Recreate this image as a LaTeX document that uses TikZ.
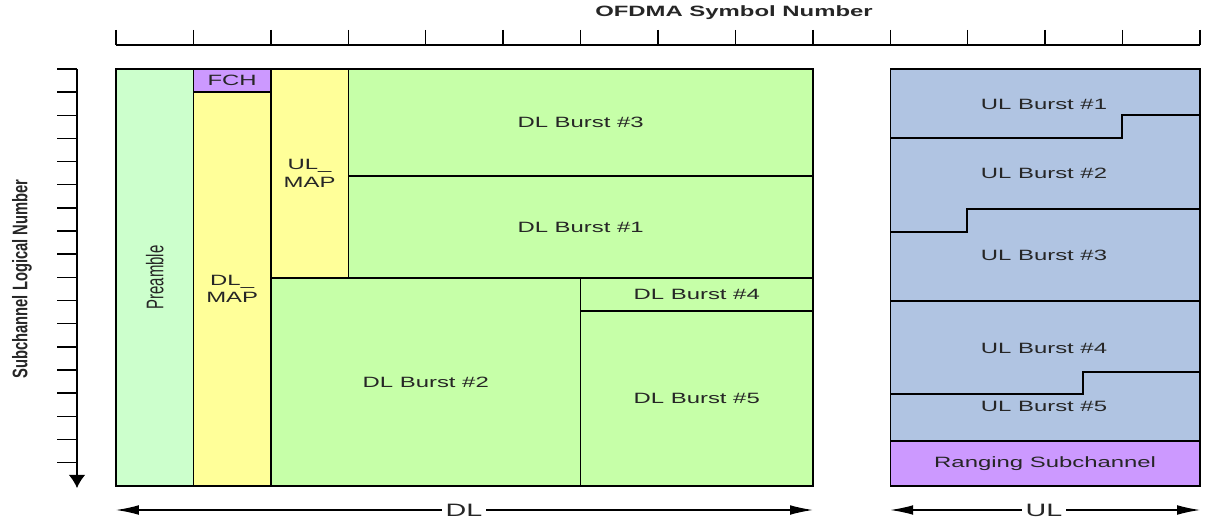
\documentclass[tikz,border=0pt]{standalone}
\usepackage{fontspec}
\setmainfont{Liberation Sans}
\newfontfamily\widefont[FakeStretch=1.6]{Liberation Sans}
\newfontfamily\slimfont[FakeStretch=0.62]{Liberation Sans}
\newfontfamily\axisfont[FakeStretch=0.7]{Liberation Sans}
\usetikzlibrary{arrows.meta, positioning, fit}
\definecolor{cPre}{RGB}{204,255,204}
\definecolor{cBurst}{RGB}{198,255,168}
\definecolor{cMap}{RGB}{255,255,153}
\definecolor{cFch}{RGB}{204,153,255}
\definecolor{cUl}{RGB}{176,196,226}
\tikzset{
	blk/.style    ={rectangle, draw=black, line width=0.8pt, inner sep=0pt},
	lbl/.style    ={font=\widefont\fontsize{8.5}{10}\selectfont, text=black!85, align=center, inner sep=0pt},
	tickln/.style ={line width=0.8pt},
	dimarr/.style ={-{Latex[length=13pt, width=5.5pt]}, line width=0.7pt},
}
\begin{document}
\begin{tikzpicture}[x=0.02cm, y=-0.02cm]
	\useasboundingbox (0,0) rectangle (1210,523);
	\node[lbl, font=\widefont\bfseries\fontsize{8.5}{10}\selectfont] (title) at (734,13) {OFDMA Symbol Number};
	\draw[tickln] (116,45) -- (1200,45);
	\foreach \i in {0,...,14} \draw[tickln] ({116+77.43*\i},30) -- ++(0,15);
	\node[lbl, rotate=90, font=\axisfont\bfseries\fontsize{12}{14}\selectfont] (axis) at (22,279) {Subchannel Logical Number};
	\foreach \j in {0,...,17} \draw[tickln] (57,{69+23.15*\j}) -- (77,{69+23.15*\j});
	\draw[tickln, -{Latex[length=7.5pt, width=9.5pt]}] (77,69) -- (77,488);
	\node[blk, fill=cPre, fit={(116,69) (193.4,486)}] (pre) {};
	\node[blk, fill=cFch, fit={(193.4,69) (270.9,92)}] (fch) {};
	\node[blk, fill=cMap, fit={(193.4,92) (270.9,486)}] (dlmap) {};
	\node[blk, fill=cMap, fit={(270.9,69) (348.3,278)}] (ulmap) {};
	\node[blk, fill=cBurst, fit={(348.3,69) (812.9,176)}] (dl3) {};
	\node[blk, fill=cBurst, fit={(348.3,176) (812.9,278)}] (dl1) {};
	\node[blk, fill=cBurst, fit={(270.9,278) (580.6,486)}] (dl2) {};
	\node[blk, fill=cBurst, fit={(580.6,278) (812.9,311)}] (dl4) {};
	\node[blk, fill=cBurst, fit={(580.6,311) (812.9,486)}] (dl5) {};
	\node[lbl, rotate=90, font=\slimfont\fontsize{13.7}{15}\selectfont] at (pre) {Preamble};
	\node[lbl] at (fch) {FCH};
	\node[lbl] at (dlmap) {DL\_\\MAP};
	\node[lbl] at (ulmap) {UL\_\\MAP};
	\node[lbl] at (dl3) {DL Burst \#3};
	\node[lbl] at (dl1) {DL Burst \#1};
	\node[lbl] at (dl2) {DL Burst \#2};
	\node[lbl] at (dl4) {DL Burst \#4};
	\node[lbl] at (dl5) {DL Burst \#5};
	\node[blk, fill=cUl, fit={(890.3,69) (1200,486)}] (ul) {};
	\node[blk, fill=cFch, fit={(890.3,441) (1200,486)}] (rng) {};
	\draw[blk] (890.3,138) -| (1122,115) -- (1200,115);
	\draw[blk] (890.3,232) -| (967,209) -- (1200,209);
	\draw[blk] (890.3,301) -- (1200,301);
	\draw[blk] (890.3,394) -| (1083,372) -- (1200,372);
	\node[lbl] (ul1) at (1044,104) {UL Burst \#1};
	\node[lbl] (ul2) at (1044,173) {UL Burst \#2};
	\node[lbl] (ul3) at (1044,255) {UL Burst \#3};
	\node[lbl] (ul4) at (1044,348) {UL Burst \#4};
	\node[lbl] (ul5) at (1044,406) {UL Burst \#5};
	\node[lbl] at (rng) {Ranging Subchannel};
	\node[lbl, font=\widefont\fontsize{10.2}{12}\selectfont, inner sep=2pt] (dl) at (464,510) {DL};
	\node[lbl, font=\widefont\fontsize{10.2}{12}\selectfont, inner sep=2pt] (ulx) at (1044,510) {UL};
	\coordinate (dlL) at (116,510);
	\coordinate (dlR) at (812.9,510);
	\coordinate (ulL) at (890.3,510);
	\coordinate (ulR) at (1200,510);
	\draw[dimarr] (dl) -- (dlL); \draw[dimarr] (dl) -- (dlR);
	\draw[dimarr] (ulx) -- (ulL); \draw[dimarr] (ulx) -- (ulR);
\end{tikzpicture}
\end{document}
